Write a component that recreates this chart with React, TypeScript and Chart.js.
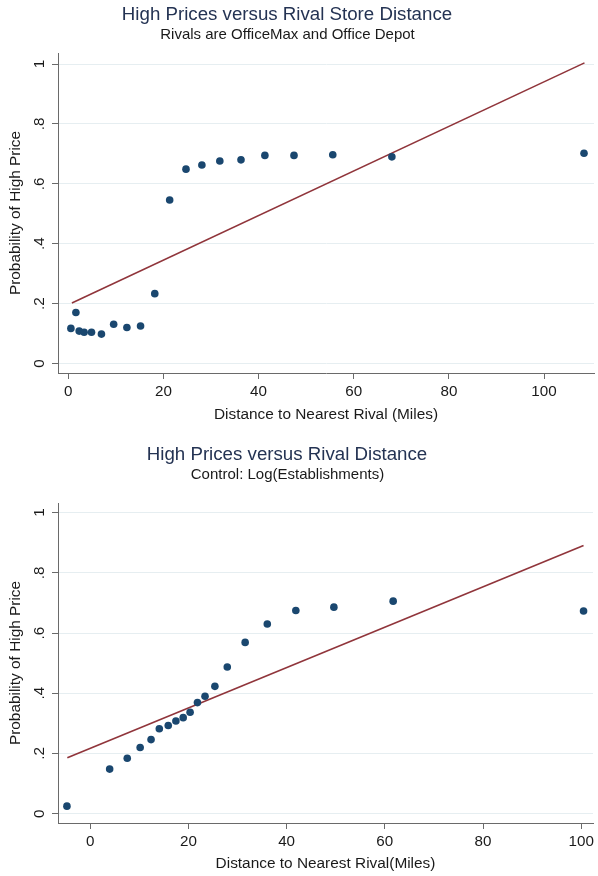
import React, { useEffect, useRef } from "react";
import { Chart, registerables } from "chart.js";

Chart.register(...registerables);

// ---- Data: top panel (Rivals are OfficeMax and Office Depot) ----
const topDistance = [0.56, 1.61, 2.3, 3.34, 4.89, 6.98, 9.55, 12.33, 15.2, 18.19, 21.32, 24.75, 28.09, 31.86, 36.31, 41.33, 47.45, 55.6, 68.02, 108.4];
const topProb = [0.117, 0.17, 0.108, 0.104, 0.104, 0.098, 0.131, 0.12, 0.125, 0.233, 0.546, 0.649, 0.663, 0.676, 0.68, 0.695, 0.695, 0.697, 0.69, 0.702];
const topFitX = [0.77, 108.5];
const topFitY = [0.202, 1.004];

// ---- Data: bottom panel (Control: Log(Establishments)) ----
const botDistance = [-4.73, 3.97, 7.55, 10.18, 12.4, 14.08, 15.9, 17.46, 18.94, 20.35, 21.85, 23.39, 25.4, 27.92, 31.56, 36.07, 41.88, 49.63, 61.7, 100.47];
const botProb = [0.025, 0.148, 0.184, 0.22, 0.246, 0.282, 0.293, 0.308, 0.319, 0.337, 0.369, 0.39, 0.423, 0.487, 0.569, 0.63, 0.675, 0.686, 0.706, 0.673];
const botFitX = [-4.65, 100.47];
const botFitY = [0.186, 0.891];

const xTickValues = [0, 20, 40, 60, 80, 100];
const yTickValues = [0, 0.2, 0.4, 0.6, 0.8, 1];

const FONT = "'Liberation Sans', Arial, sans-serif";
const DOT = "#1a476f";
const LINE = "#90353b";
const AXIS = "#6a6a6a";
const GRID = "#e6eef1";
const TEXT = "#1a1a1a";

type PanelProps = {
  title: string;
  subtitle: string;
  xTitle: string;
  xs: number[];
  ys: number[];
  fitX: number[];
  fitY: number[];
  xMin: number;
  xMax: number;
  yMin: number;
  yMax: number;
  top: number;
  height: number;
  areaTop: number;
  xAxisHeight: number;
  xTitlePad: number;
};

function yLabel(v: number): string {
  if (v === 0) return "0";
  if (v === 1) return "1";
  return v.toFixed(1).replace(/^0/, "");
}

function Panel(p: PanelProps) {
  const ref = useRef<HTMLCanvasElement | null>(null);
  useEffect(() => {
    if (!ref.current) return;
    const chart = new Chart(ref.current, {
      type: "scatter",
      data: {
        datasets: [
          {
            label: "points",
            data: p.xs.map((x, i) => ({ x, y: p.ys[i] })),
            backgroundColor: DOT,
            borderColor: DOT,
            pointRadius: 3.8,
            pointBorderWidth: 0,
            showLine: false,
          },
          {
            label: "fit",
            type: "line",
            data: p.fitX.map((x, i) => ({ x, y: p.fitY[i] })),
            borderColor: LINE,
            borderWidth: 1.6,
            pointRadius: 0,
            fill: false,
          } as any,
        ],
      },
      options: {
        responsive: false,
        animation: false,
        events: [],
        layout: { padding: { top: p.areaTop, left: 0, right: 1, bottom: 0 } },
        plugins: { legend: { display: false }, tooltip: { enabled: false }, title: { display: false } },
        scales: {
          x: {
            type: "linear",
            min: p.xMin,
            max: p.xMax,
            afterBuildTicks: (s: any) => {
              s.ticks = xTickValues.map((v) => ({ value: v }));
            },
            afterFit: (s: any) => {
              s.height = p.xAxisHeight;
            },
            border: { display: true, color: AXIS, width: 1 },
            grid: { drawOnChartArea: false, drawTicks: true, tickLength: 6, tickColor: AXIS },
            ticks: {
              autoSkip: false,
              maxRotation: 0,
              padding: 4,
              color: TEXT,
              font: { family: FONT, size: 15.2 },
              callback: (v: any) => String(v),
            },
            title: {
              display: true,
              text: p.xTitle,
              color: TEXT,
              font: { family: FONT, size: 15.4 },
              padding: { top: 0, bottom: p.xTitlePad },
            },
          },
          y: {
            type: "linear",
            min: p.yMin,
            max: p.yMax,
            afterBuildTicks: (s: any) => {
              s.ticks = yTickValues.map((v) => ({ value: v }));
            },
            afterFit: (s: any) => {
              s.width = 58;
            },
            border: { display: true, color: AXIS, width: 1 },
            grid: { color: GRID, lineWidth: 1, drawTicks: true, tickLength: 6, tickColor: AXIS },
            ticks: {
              minRotation: 90,
              maxRotation: 90,
              crossAlign: "center",
              padding: 5.6,
              color: TEXT,
              font: { family: FONT, size: 15.2 },
              callback: (v: any) => yLabel(Number(v)),
            },
            title: {
              display: true,
              text: "Probability of High Price",
              color: TEXT,
              font: { family: FONT, size: 15.4 },
              padding: { top: 7, bottom: 0 },
            },
          },
        },
      },
    });
    return () => chart.destroy();
  }, []);

  return (
    <div style={{ position: "absolute", left: 0, top: p.top, width: 598, height: p.height }}>
      <canvas ref={ref} width={598} height={p.height} style={{ display: "block" }} />
      <div
        style={{
          position: "absolute",
          left: 0,
          top: 0,
          width: 574,
          textAlign: "center",
          fontFamily: FONT,
          fontSize: 18.7,
          color: "#243353",
          lineHeight: "22px",
          paddingTop: 3,
        }}
      >
        {p.title}
      </div>
      <div
        style={{
          position: "absolute",
          left: 0,
          top: 25,
          width: 575,
          textAlign: "center",
          fontFamily: FONT,
          fontSize: 15,
          color: TEXT,
          lineHeight: "18px",
        }}
      >
        {p.subtitle}
      </div>
    </div>
  );
}

export default function App() {
  return (
    <div style={{ position: "absolute", left: 0, top: 0, width: 598, height: 876, background: "#fff", overflow: "hidden" }}>
      <Panel
        title="High Prices versus Rival Store Distance"
        subtitle="Rivals are OfficeMax and Office Depot"
        xTitle="Distance to Nearest Rival (Miles)"
        xs={topDistance}
        ys={topProb}
        fitX={topFitX}
        fitY={topFitY}
        xMin={-2.15}
        xMax={110.5}
        yMin={-0.032}
        yMax={1.037}
        top={0}
        height={440}
        areaTop={53}
        xAxisHeight={67}
        xTitlePad={16}
      />
      <Panel
        title="High Prices versus Rival Distance"
        subtitle="Control: Log(Establishments)"
        xTitle="Distance to Nearest Rival(Miles)"
        xs={botDistance}
        ys={botProb}
        fitX={botFitX}
        fitY={botFitY}
        xMin={-6.55}
        xMax={102.4}
        yMin={-0.031}
        yMax={1.032}
        top={440}
        height={436}
        areaTop={63}
        xAxisHeight={53}
        xTitlePad={3}
      />
    </div>
  );
}
